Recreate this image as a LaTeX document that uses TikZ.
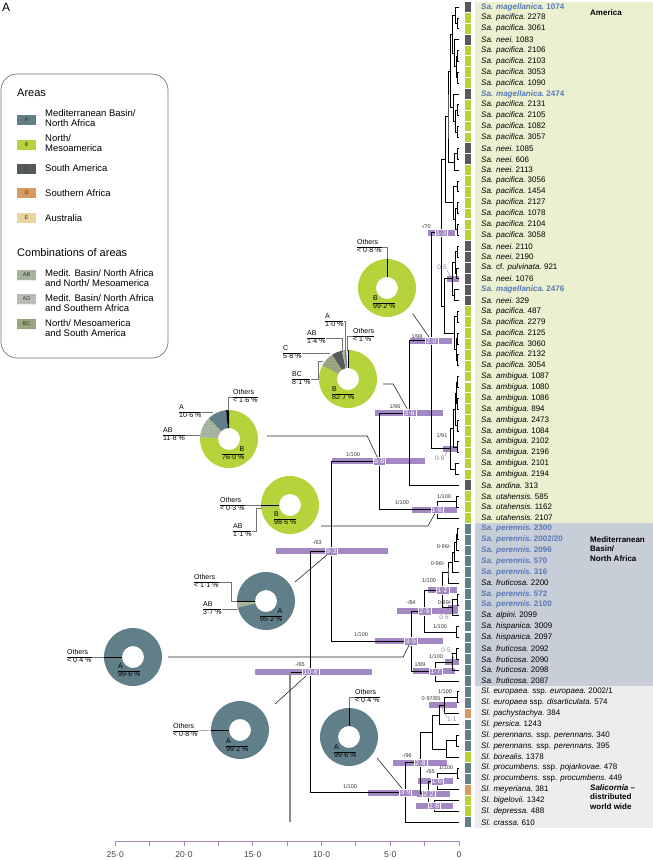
\documentclass[tikz,border=0pt]{standalone}
\usepackage{fontspec}
\setmainfont{Liberation Sans}
\usetikzlibrary{calc,patterns}

\definecolor{areaA}{RGB}{96,127,137}
\definecolor{areaB}{RGB}{181,211,58}
\definecolor{areaC}{RGB}{86,90,89}
\definecolor{areaD}{RGB}{217,154,98}
\definecolor{areaE}{RGB}{232,212,156}
\definecolor{comboAB}{RGB}{170,184,162}
\definecolor{comboAD}{RGB}{192,192,184}
\definecolor{comboBC}{RGB}{158,168,128}
\definecolor{hpd}{RGB}{164,136,198}
\definecolor{hl}{RGB}{88,120,184}
\definecolor{bgAm}{RGB}{234,240,208}
\definecolor{bgMed}{RGB}{200,206,216}
\definecolor{bgSal}{RGB}{237,237,237}

\pgfdeclarelayer{bars}
\pgfsetlayers{bars,main}

% taxon labels
\newcommand{\taxon}[2]{\textit{#1.}\ #2}
\newcommand{\taxblue}[2]{{\color{hl}\bfseries\textit{#1.}\ #2}}

% one node of the chronogram: name, age, upper child, lower child
\newcommand{\clade}[4]{%
  \coordinate (cm) at ($(#3)!0.5!(#4)$);
  \coordinate (ca) at (#2,0);
  \coordinate (#1) at (cm -| ca);
  \draw[branch] (#3) -| (#1) |- (#4);
}
% 95% HPD bar: node, old end, young end
\newcommand{\hpdbar}[3]{%
  \coordinate (h1) at (#2,0);
  \coordinate (h2) at (#3,0);
  \draw[hpdline] (h1 |- #1) -- (h2 |- #1);
}
% ring slice: centre, start, end, style
\newcommand{\slice}[4]{%
  \fill[#4] ($(#1)+(#2:29)$) arc[start angle=#2, end angle=#3, radius=29]
    -- ($(#1)+(#3:11)$) arc[start angle=#3, end angle=#2, radius=11] -- cycle;
}
% share label with a rule between the two lines
\newcommand{\share}[3]{\begin{tabular}{@{}#1@{}}#2\\\hline #3\end{tabular}}

\tikzset{
  branch/.style={black, line width=0.7pt},
  stem/.style={black!45, line width=1.3pt},
  hpdline/.style={hpd, line width=6pt},
  agebox/.style={fill=hpd, draw=white, line width=0.4pt, text=white,
    inner sep=1.2pt, font=\fontsize{7}{7.5}\selectfont},
  support/.style={text=black!80, inner sep=0pt, font=\fontsize{5.5}{6}\selectfont},
  hpdtext/.style={text=hpd!90!black, inner sep=0pt, font=\fontsize{6.5}{7}\selectfont},
  hpdtick/.style={hpd!90!black, line width=0.4pt},
  leaf/.style={anchor=west, inner sep=0pt, font=\fontsize{8}{9}\selectfont},
  pie/.style={circle, minimum size=58pt, inner sep=0pt},
  share/.style={anchor=west, inner sep=0pt, font=\fontsize{7}{7.5}\selectfont},
  lead/.style={black!55, line width=0.5pt},
  cut/.style={black, line width=0.9pt},
  conn/.style={black!85, line width=0.6pt},
  dotAB/.style={fill=comboAB, postaction={pattern=dots, pattern color=black!55}},
  dotAD/.style={fill=comboAD, postaction={pattern=dots, pattern color=black!55}},
  dotBC/.style={fill=comboBC, postaction={pattern=dots, pattern color=black!55}},
  keybox/.style={minimum width=19pt, minimum height=10pt, inner sep=0pt,
    text=black!80, font=\fontsize{5.5}{6}\selectfont},
  keytext/.style={anchor=west, align=left, inner sep=0pt, font=\fontsize{9.5}{10}\selectfont},
  region/.style={anchor=west, align=left, inner sep=0pt, font=\fontsize{8}{9.5}\selectfont\bfseries},
  axislabel/.style={text=black!75, inner sep=0pt, font=\fontsize{8.5}{9}\selectfont},
}

\begin{document}
\begin{tikzpicture}[x=1pt, y=-1pt]
    \useasboundingbox (0,0) rectangle (653,860);

    % Panel letter
    \node[anchor=north west, inner sep=0pt, font=\fontsize{12}{12}\selectfont] (panel) at (2,3) {A};

    % Backgrounds of the three regions
    \fill[bgAm] (475,2) rectangle (653,523);
    \fill[bgMed] (475,523) rectangle (653,686);
    \fill[bgSal] (475,686) rectangle (653,828);
    \node[region] (am) at (590,13) {America};
    \node[region] (med) at (590,549) {Mediterranean\\Basin/\\North Africa};
    \node[region] (sal) at (590,797) {\textit{Salicornia} --\\distributed\\world wide};

    % Legend
    \draw[black!55, line width=0.7pt, rounded corners=16pt] (1,74) rectangle (168,358);
    \node[anchor=west, inner sep=0pt, font=\fontsize{11}{12}\selectfont] (areas) at (17,93) {Areas};
    \node[keybox, fill=areaA] (kA) at (26.5,120) {A};
    \node[keybox, fill=areaB] (kB) at (26.5,145) {B};
    \node[keybox, fill=areaC] (kC) at (26.5,169) {C};
    \node[keybox, fill=areaD] (kD) at (26.5,193) {D};
    \node[keybox, fill=areaE] (kE) at (26.5,218) {E};
    \node[keytext] (tA) at (45,118) {Mediterranean Basin/\\North Africa};
    \node[keytext] (tB) at (45,143) {North/\\Mesoamerica};
    \node[keytext] (tC) at (45,168) {South America};
    \node[keytext] (tD) at (45,193) {Southern Africa};
    \node[keytext] (tE) at (45,218) {Australia};
    \node[anchor=west, inner sep=0pt, font=\fontsize{11}{12}\selectfont] (combi) at (17,253) {Combinations of areas};
    \node[keybox, dotAB] (kAB) at (26.5,275) {AB};
    \node[keybox, dotAD] (kAD) at (26.5,299) {AD};
    \node[keybox, dotBC] (kBC) at (26.5,324) {BC};
    \node[keytext] (tAB) at (45,278) {Medit. Basin/ North Africa\\and North/ Mesoamerica};
    \node[keytext] (tAD) at (45,303) {Medit. Basin/ North Africa\\and Southern Africa};
    \node[keytext] (tBC) at (45,328) {North/ Mesoamerica\\and South America};

    % Leaves: area square and name
    \foreach \k/\c/\t in {
      0/C/{\taxblue{Sa. magellanica}{1074}}, 1/B/{\taxon{Sa. pacifica}{2278}},
      2/B/{\taxon{Sa. pacifica}{3061}}, 3/C/{\taxon{Sa. neei}{1083}},
      4/B/{\taxon{Sa. pacifica}{2106}}, 5/B/{\taxon{Sa. pacifica}{2103}},
      6/B/{\taxon{Sa. pacifica}{3053}}, 7/B/{\taxon{Sa. pacifica}{1090}},
      8/C/{\taxblue{Sa. magellanica}{2474}}, 9/B/{\taxon{Sa. pacifica}{2131}},
      10/B/{\taxon{Sa. pacifica}{2105}}, 11/B/{\taxon{Sa. pacifica}{1082}},
      12/B/{\taxon{Sa. pacifica}{3057}}, 13/C/{\taxon{Sa. neei}{1085}},
      14/C/{\taxon{Sa. neei}{606}}, 15/B/{\taxon{Sa. neei}{2113}},
      16/B/{\taxon{Sa. pacifica}{3056}}, 17/B/{\taxon{Sa. pacifica}{1454}},
      18/B/{\taxon{Sa. pacifica}{2127}}, 19/B/{\taxon{Sa. pacifica}{1078}},
      20/B/{\taxon{Sa. pacifica}{2104}}, 21/B/{\taxon{Sa. pacifica}{3058}},
      22/C/{\taxon{Sa. neei}{2110}}, 23/C/{\taxon{Sa. neei}{2190}},
      24/C/{\textit{Sa.} cf. \textit{pulvinata.}\ 921}, 25/C/{\taxon{Sa. neei}{1076}},
      26/C/{\taxblue{Sa. magellanica}{2476}}, 27/C/{\taxon{Sa. neei}{329}},
      28/B/{\taxon{Sa. pacifica}{487}}, 29/B/{\taxon{Sa. pacifica}{2279}},
      30/B/{\taxon{Sa. pacifica}{2125}}, 31/B/{\taxon{Sa. pacifica}{3060}},
      32/B/{\taxon{Sa. pacifica}{2132}}, 33/B/{\taxon{Sa. pacifica}{3054}},
      34/B/{\taxon{Sa. ambigua}{1087}}, 35/B/{\taxon{Sa. ambigua}{1080}},
      36/B/{\taxon{Sa. ambigua}{1086}}, 37/B/{\taxon{Sa. ambigua}{894}},
      38/B/{\taxon{Sa. ambigua}{2473}}, 39/B/{\taxon{Sa. ambigua}{1084}},
      40/B/{\taxon{Sa. ambigua}{2102}}, 41/B/{\taxon{Sa. ambigua}{2196}},
      42/B/{\taxon{Sa. ambigua}{2101}}, 43/B/{\taxon{Sa. ambigua}{2194}},
      44/C/{\taxon{Sa. andina}{313}}, 45/B/{\taxon{Sa. utahensis}{585}},
      46/B/{\taxon{Sa. utahensis}{1162}}, 47/B/{\taxon{Sa. utahensis}{2107}},
      48/A/{\taxblue{Sa. perennis}{2300}}, 49/A/{\taxblue{Sa. perennis}{2002/20}},
      50/A/{\taxblue{Sa. perennis}{2096}}, 51/A/{\taxblue{Sa. perennis}{570}},
      52/A/{\taxblue{Sa. perennis}{316}}, 53/A/{\taxon{Sa. fruticosa}{2200}},
      54/A/{\taxblue{Sa. perennis}{572}}, 55/A/{\taxblue{Sa. perennis}{2100}},
      56/A/{\taxon{Sa. alpini}{2099}}, 57/A/{\taxon{Sa. hispanica}{3009}},
      58/A/{\taxon{Sa. hispanica}{2097}}, 59/A/{\taxon{Sa. fruticosa}{2092}},
      60/A/{\taxon{Sa. fruticosa}{2090}}, 61/A/{\taxon{Sa. fruticosa}{2098}},
      62/A/{\taxon{Sa. fruticosa}{2087}},
      63/A/{\textit{Sl. europaea.} ssp. \textit{europaea.}\ 2002/1},
      64/A/{\textit{Sl. europaea} ssp. \textit{disarticulata.}\ 574},
      65/D/{\taxon{Sl. pachystachya}{384}}, 66/A/{\taxon{Sl. persica}{1243}},
      67/A/{\textit{Sl. perennans.} ssp. \textit{perennans.}\ 340},
      68/A/{\textit{Sl. perennans.} ssp. \textit{perennans.}\ 395},
      69/B/{\taxon{Sl. borealis}{1378}},
      70/A/{\textit{Sl. procumbens.} ssp. \textit{pojarkovae.}\ 478},
      71/A/{\textit{Sl. procumbens.} ssp. \textit{procumbens.}\ 449},
      72/D/{\taxon{Sl. meyeriana}{381}}, 73/B/{\taxon{Sl. bigelovii}{1342}},
      74/B/{\taxon{Sl. depressa}{488}}, 75/A/{\taxon{Sl. crassa}{610}}}{
      \fill[area\c] (465,{7+10.87*\k-4.9}) rectangle (471,{7+10.87*\k+4.9});
      \node[leaf] (name\k) at (481,{7+10.87*\k}) {\t};
    }

    % Chronogram: x = age in Ma, y = leaf number
    \begin{scope}[shift={(459,7)}, x={(-13.75,0)}, y={(0,10.87)}]
      \foreach \k in {0,...,75}
        \coordinate (L\k) at (0,\k);

      % America
      \clade{a1}{0.15}{L1}{L2}
      \clade{a2}{0.3}{L0}{a1}
      \clade{a3}{0.1}{L4}{L5}
      \clade{a4}{0.12}{L6}{L7}
      \clade{a5}{0.2}{a3}{a4}
      \clade{a6}{0.35}{L3}{a5}
      \clade{a7}{0.5}{a2}{a6}
      \clade{a8}{0.1}{L9}{L10}
      \clade{a9}{0.15}{L11}{L12}
      \clade{a10}{0.25}{a8}{a9}
      \clade{a11}{0.4}{L8}{a10}
      \clade{a12}{0.65}{a7}{a11}
      \clade{a13}{0.15}{L13}{L14}
      \clade{a14}{0.35}{a13}{L15}
      \clade{a15}{0.1}{L16}{L17}
      \clade{a16}{0.15}{L18}{L19}
      \clade{a17}{0.12}{L20}{L21}
      \clade{a18}{0.25}{a16}{a17}
      \clade{a19}{0.4}{a15}{a18}
      \clade{a20}{0.8}{a12}{a14}
      \clade{a21}{1.0}{a20}{a19}
      \clade{a22}{0.1}{L22}{L23}
      \clade{a23}{0.2}{L24}{L25}
      \clade{a24}{0.3}{a22}{a23}
      \clade{a25}{0.35}{L26}{L27}
      \clade{N05}{0.5}{a24}{a25}
      \clade{a26}{0.12}{L28}{L29}
      \clade{a27}{0.1}{L30}{L31}
      \clade{a28}{0.14}{L32}{L33}
      \clade{a29}{0.22}{a27}{a28}
      \clade{a30}{0.35}{a26}{a29}
      \clade{a31}{1.05}{N05}{a30}
      \clade{N13}{1.3}{a21}{a31}
      \clade{b1}{0.1}{L34}{L35}
      \clade{b2}{0.15}{L36}{L37}
      \clade{b3}{0.2}{b1}{b2}
      \clade{b4}{0.1}{L38}{L39}
      \clade{b5}{0.3}{b3}{b4}
      \clade{b6}{0.12}{L40}{L41}
      \clade{b7}{0.4}{b5}{b6}
      \clade{b8}{0.25}{L42}{L43}
      \clade{N06}{0.6}{b7}{b8}
      \clade{N20}{2.0}{N13}{N06}
      \clade{N36}{3.6}{N20}{L44}
      \clade{c1}{0.2}{L45}{L46}
      \clade{N16}{1.6}{c1}{L47}
      \clade{N58}{5.8}{N36}{N16}

      % Mediterranean Basin / North Africa
      \clade{m1}{0.1}{L48}{L49}
      \clade{m2}{0.2}{m1}{L50}
      \clade{m3}{0.35}{m2}{L51}
      \clade{m4}{0.5}{m3}{L52}
      \clade{m5}{0.8}{m4}{L53}
      \clade{m6}{0.15}{L54}{L55}
      \clade{N05m}{0.5}{m6}{L56}
      \clade{N12}{1.2}{m5}{N05m}
      \clade{m7}{0.2}{L57}{L58}
      \clade{N25}{2.5}{N12}{m7}
      \clade{m8}{0.2}{L59}{L60}
      \clade{N05f}{0.5}{m8}{L61}
      \clade{N17}{1.7}{N05f}{L62}
      \clade{N35}{3.5}{N25}{N17}
      \clade{N93}{9.3}{N58}{N35}

      % Salicornia
      \clade{s1}{0.15}{L63}{L64}
      \clade{N11}{1.1}{s1}{L65}
      \clade{s2}{1.45}{N11}{L66}
      \clade{s3}{0.2}{L67}{L68}
      \clade{s4}{0.9}{s3}{L69}
      \clade{s5}{1.96}{s2}{s4}
      \clade{s6}{0.1}{L70}{L71}
      \clade{N16s}{1.6}{s6}{L72}
      \clade{N18}{1.8}{L73}{L74}
      \clade{N22}{2.2}{N16s}{N18}
      \clade{N28}{2.8}{s5}{N22}
      \clade{N39}{3.9}{N28}{L75}
      \clade{N108}{10.8}{N93}{N39}

      % root stem
      \coordinate (rt) at (12.3,0);
      \draw[branch] (N108) -- (rt |- N108);
      \draw[stem] (rt |- N108) -- (rt |- L75);

      % 95% HPD bars, under the branches
      \begin{pgfonlayer}{bars}
        \hpdbar{N58}{9.24}{2.47}
        \hpdbar{N36}{6.11}{1.16}
        \hpdbar{N20}{3.56}{0.51}
        \hpdbar{N13}{2.25}{0.29}
        \hpdbar{N05}{0.87}{0}
        \hpdbar{N06}{1.16}{0.07}
        \hpdbar{N16}{3.42}{0.15}
        \hpdbar{N93}{13.31}{5.16}
        \hpdbar{N108}{14.84}{6.33}
        \hpdbar{N35}{6.11}{1.16}
        \hpdbar{N25}{4.51}{0.07}
        \hpdbar{N12}{2.25}{0.15}
        \hpdbar{N05m}{0.8}{0.07}
        \hpdbar{N17}{3.35}{0.29}
        \hpdbar{N05f}{1.0}{0}
        \hpdbar{N11}{2.18}{0.15}
        \hpdbar{N39}{6.62}{2.84}
        \hpdbar{N28}{4.8}{0.87}
        \hpdbar{N22}{3.05}{0.65}
        \hpdbar{N16s}{2.98}{0.44}
        \hpdbar{N18}{3.13}{0.44}
      \end{pgfonlayer}

      % node ages
      \node[agebox] (b13) at (N13) {1·3};
      \node[agebox] (b20) at (N20) {2·0};
      \node[agebox] (b36) at (N36) {3·6};
      \node[agebox] (b58) at (N58) {5·8};
      \node[agebox] (b16) at (N16) {1·6};
      \node[agebox] (b93) at (N93) {9·3};
      \node[agebox] (b108) at (N108) {10·8};
      \node[agebox] (b35) at (N35) {3·5};
      \node[agebox] (b25) at (N25) {2·5};
      \node[agebox] (b12) at (N12) {1·2};
      \node[agebox] (b17) at (N17) {1·7};
      \node[agebox] (b39) at (N39) {3·9};
      \node[agebox] (b28) at (N28) {2·8};
      \node[agebox] (b22) at (N22) {2·2};
      \node[agebox] (b16s) at (N16s) {1·6};
      \node[agebox] (b18) at (N18) {1·8};
    \end{scope}

    % small ages beside their bars
    \node[hpdtext] (v05) at ([xshift=-10pt,yshift=11pt]N05) {0·5};
    \draw[hpdtick] (v05.south east) -- ++(4,7);
    \node[hpdtext] (v06) at ([xshift=-11pt,yshift=-10pt]N06) {0·6};
    \draw[hpdtick] (v06.north east) -- ++(4,-7);
    \node[hpdtext] (v05m) at ([xshift=-8pt,yshift=-10pt]N05m) {0·5};
    \draw[hpdtick] (v05m.north east) -- ++(3,-6);
    \node[hpdtext] (v05f) at ([xshift=-6pt,yshift=12pt]N05f) {0·5};
    \draw[hpdtick] (v05f.south east) -- ++(3,6);
    \node[hpdtext] (v11) at ([xshift=8pt,yshift=-14pt]N11) {1·1};
    \draw[hpdtick] (v11.north west) -- ++(-5,-9);

    % posterior probability / bootstrap
    \node[support] at (426,227) {-/70};
    \node[support] at (417,337) {1/98};
    \node[support] at (395,407) {1/96};
    \node[support] at (442,436) {1/91};
    \node[support] at (353,455) {1/100};
    \node[support] at (444,497) {1/100};
    \node[support] at (402,503) {1/100};
    \node[support] at (317,543) {-/63};
    \node[support] at (444,547) {0·96/-};
    \node[support] at (438,564) {0·96/-};
    \node[support] at (429,581) {1/100};
    \node[support] at (411,603) {-/84};
    \node[support] at (445,603) {0·99/-};
    \node[support] at (440,627) {1/100};
    \node[support] at (361,635) {1/100};
    \node[support] at (436,657) {1/100};
    \node[support] at (420,665) {1/89};
    \node[support] at (300,665) {-/65};
    \node[support] at (445,692) {1/100};
    \node[support] at (431,699) {0·97/85};
    \node[support] at (407,756) {-/96};
    \node[support] at (446,768) {1/100};
    \node[support] at (430,772) {-/65};
    \node[support] at (350,787) {1/100};

    % Ancestral area rings
    \node[pie] (P1) at (387,288) {};
    \slice{P1}{0}{360}{areaB}
    \draw[cut] (P1.north) -- ++(0,18);
    \node[share] (o1) at (357,247) {\share{l}{Others}{< 0·8 \%}};
    \draw[lead] (o1.east) -| (P1.north);
    \node[share] (b1) at (373,303) {\share{l}{B}{99·2 \%}};

    \node[pie] (P2) at (348,379) {};
    \slice{P2}{-90}{207.7}{areaB}
    \slice{P2}{207.7}{236.9}{dotBC}
    \slice{P2}{236.9}{257.8}{areaC}
    \slice{P2}{257.8}{262.8}{dotAB}
    \slice{P2}{262.8}{266.4}{areaA}
    \draw[cut] (P2.north) -- ++(0,18);
    \node[share] (a2) at (325,321) {\share{l}{A}{1·0 \%}};
    \draw[lead] (a2.east) -| (345,351);
    \node[share] (ab2) at (307,338) {\share{l}{AB}{1·4 \%}};
    \draw[lead] (ab2.east) -| (342,352);
    \node[share] (o2) at (353,336) {\share{l}{Others}{< 1 \%}};
    \draw[lead] (o2.west) -- ++(-6,0) -- (347,351);
    \node[share] (c2) at (283,353) {\share{l}{C}{5·8 \%}};
    \draw[lead] (c2.east) -- (330,353);
    \node[share] (bc2) at (292,379) {\share{l}{BC}{8·1 \%}};
    \draw[lead] (bc2.east) -- ++(8,0) |- (323,361);
    \node[share] (b2) at (332,394) {\share{l}{B}{82·7 \%}};

    \node[pie] (P3) at (229,439) {};
    \slice{P3}{-90}{183.6}{areaB}
    \slice{P3}{183.6}{226.1}{dotAB}
    \slice{P3}{226.1}{264.2}{areaA}
    \slice{P3}{264.2}{270}{black}
    \node[share] (o3) at (233,397) {\share{l}{Others}{< 1·6 \%}};
    \draw[lead] (o3.west) -- ++(-5,0) -- (228,411);
    \node[share] (a3) at (179,412) {\share{l}{A}{10·6 \%}};
    \draw[lead] (a3.east) -- (213,412);
    \node[share] (ab3) at (163,435) {\share{l}{AB}{11·8 \%}};
    \draw[lead] (ab3.east) -- (200,435);
    \node[share] (b3) at (222,454) {\share{r}{B}{76·0 \%}};

    \node[pie] (P4) at (290,505) {};
    \slice{P4}{0}{360}{areaB}
    \slice{P4}{176}{180}{dotAB}
    \draw[cut] (P4.west) -- ++(18,0);
    \node[share] (o4) at (220,505) {\share{l}{Others}{< 0·3 \%}};
    \draw[lead] (o4.east) -- (P4.west);
    \node[share] (ab4) at (233,531) {\share{l}{AB}{1·1 \%}};
    \draw[lead] (ab4.east) -- ++(5,0) |- (262,508);
    \node[share] (b4) at (274,519) {\share{l}{B}{98·6 \%}};

    \node[pie] (P5) at (266,601) {};
    \slice{P5}{0}{360}{areaA}
    \slice{P5}{166.7}{180}{dotAB}
    \draw[cut] (P5.west) -- ++(18,0);
    \node[share] (o5) at (194,582) {\share{l}{Others}{< 1·1 \%}};
    \draw[lead] (o5.east) -| (231,601) -- (P5.west);
    \node[share] (ab5) at (203,609) {\share{l}{AB}{3·7 \%}};
    \draw[lead] (ab5.east) -- (238,609);
    \node[share] (a5) at (260,616) {\share{r}{A}{95·2 \%}};

    \node[pie] (P6) at (133,657) {};
    \slice{P6}{0}{360}{areaA}
    \draw[cut] (P6.west) -- ++(18,0);
    \node[share] (o6) at (67,657) {\share{l}{Others}{< 0·4 \%}};
    \draw[lead] (o6.east) -- (P6.west);
    \node[share] (a6) at (118,671) {\share{l}{A}{99·6 \%}};

    \node[pie] (P7) at (240,730) {};
    \slice{P7}{0}{360}{areaA}
    \draw[cut] (P7.west) -- ++(18,0);
    \node[share] (o7) at (173,731) {\share{l}{Others}{< 0·8 \%}};
    \draw[lead] (o7.east) -- (P7.west);
    \node[share] (a7) at (226,746) {\share{l}{A}{99·2 \%}};

    \node[pie] (P8) at (349,737) {};
    \slice{P8}{0}{360}{areaA}
    \draw[cut] (P8.north) -- ++(0,18);
    \node[share] (o8) at (355,697) {\share{l}{Others}{< 0·4 \%}};
    \draw[lead] (o8.west) -- ++(-6,0) -- (P8.north);
    \node[share] (a8) at (334,752) {\share{l}{A}{99·6 \%}};

    % rings to their nodes
    \draw[conn] ([shift={(5,5)}]P1.south east) -- (b20);
    \draw[conn] ([shift={(6,5)}]P2.east) -- ++(10,0) -- (b36);
    \draw[conn] ([shift={(9,-3)}]P3.east) -- ++(100,0) -- (b58);
    \draw[conn] ([shift={(31,21)}]P4.center) -- ++(107,0) -- (b16);
    \draw[conn] ([shift={(29,-19)}]P5.center) -- (b93);
    \draw[conn] ([xshift=6pt]P6.east) -- ++(235,0) -- (b35);
    \draw[conn] ([shift={(35,-26)}]P7.center) -- (b108);
    \draw[conn] ([shift={(28,21)}]P8.center) -- (b39);

    % Time axis
    \draw[hpd, line width=1pt] (115.25,841) -- (459,841);
    \foreach \a in {0,2.5,...,25}
      \draw[hpd, line width=1pt] ({459-13.75*\a},841) -- ++(0,5);
    \foreach \a/\t in {0/0,5/5·0,10/10·0,15/15·0,20/20·0,25/25·0}
      \node[axislabel] at ({459-13.75*\a},855) {\t};
\end{tikzpicture}
\end{document}
